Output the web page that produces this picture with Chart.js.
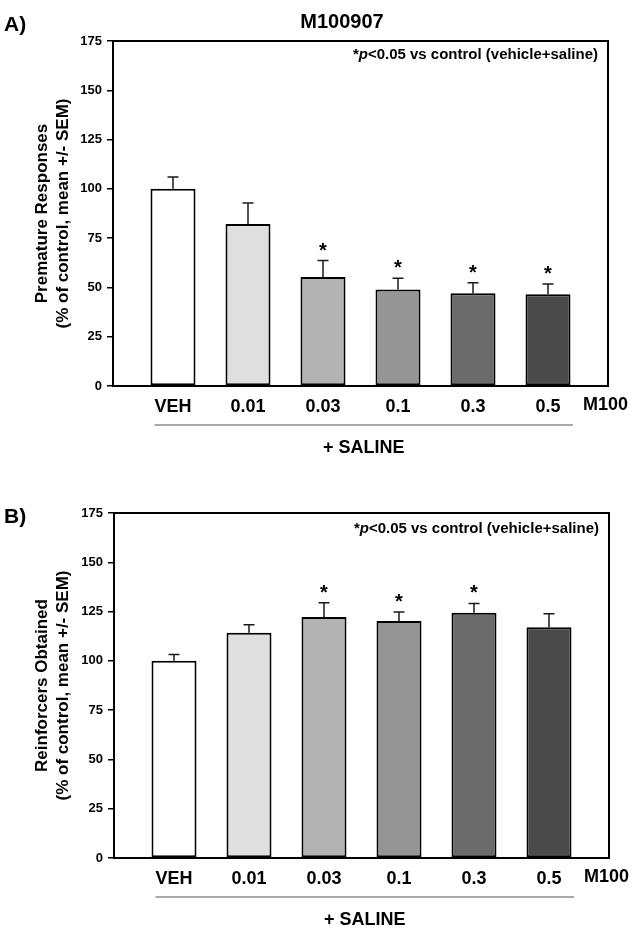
<!DOCTYPE html>
<html>
<head>
<meta charset="utf-8">
<title>M100907</title>
<script src="https://cdn.jsdelivr.net/npm/chart.js@4.4.1/dist/chart.umd.min.js"></script>
<style>
    html, body { margin: 0; padding: 0; background: #fff; }
    .panel { position: absolute; left: 0; width: 641px; height: 467px; }
    #panelA { top: 0; }
    #panelB { top: 467px; }
</style>
</head>
<body>
<div class="panel" id="panelA"><canvas id="chartA"></canvas></div>
<div class="panel" id="panelB"><canvas id="chartB"></canvas></div>

<script>
// Data
const doses = ['VEH', '0.01', '0.03', '0.1', '0.3', '0.5'];
const yTicks = [0, 25, 50, 75, 100, 125, 150, 175];

const prematureMeans = [100, 82.2, 55.3, 49.0, 47.0, 46.5];
const prematureSem = [6.0, 10.6, 8.3, 5.6, 5.4, 5.3];
const prematureSig = [false, false, true, true, true, true];

const reinforcerMeans = [100, 114.3, 122.2, 120.2, 124.4, 117.0];
const reinforcerSem = [3.2, 4.0, 7.3, 4.6, 4.7, 6.9];
const reinforcerSig = [false, false, true, true, true, false];

const barColors = ['#ffffff', '#dfdfdf', '#b3b3b3', '#959595', '#6b6b6b', '#4a4a4a'];
const FONT = "'Liberation Sans', Arial, sans-serif";

// error bars, asterisks, frame and extra labels
const extrasPlugin = {
    id: 'extras',
    afterDatasetsDraw(chart, args, opts) {
        const { ctx, chartArea } = chart;
        const xs = chart.scales.x;
        const ys = chart.scales.y;
        ctx.save();

        // top and right frame
        ctx.strokeStyle = '#000';
        ctx.lineWidth = 2;
        ctx.beginPath();
        ctx.moveTo(chartArea.left, chartArea.top);
        ctx.lineTo(chartArea.right, chartArea.top);
        ctx.lineTo(chartArea.right, chartArea.bottom);
        ctx.stroke();

        // upward error bars
        ctx.strokeStyle = '#1a1a1a';
        ctx.lineWidth = 1.5;
        opts.means.forEach((m, i) => {
            const x = xs.getPixelForValue(i);
            const y0 = ys.getPixelForValue(m);
            const y1 = ys.getPixelForValue(m + opts.sem[i]);
            ctx.beginPath();
            ctx.moveTo(x, y0);
            ctx.lineTo(x, y1);
            ctx.moveTo(x - 5.5, y1);
            ctx.lineTo(x + 5.5, y1);
            ctx.stroke();

            if (opts.sig[i]) {
                ctx.fillStyle = '#000';
                ctx.font = 'bold 20px ' + FONT;
                ctx.textAlign = 'center';
                ctx.textBaseline = 'alphabetic';
                ctx.fillText('*', x, y1 - 4);
            }
        });

        // significance note, right aligned inside the frame
        ctx.fillStyle = '#000';
        ctx.textBaseline = 'middle';
        ctx.textAlign = 'left';
        const parts = [
            ['bold 15px ' + FONT, '*'],
            ['italic bold 15px ' + FONT, 'p'],
            ['bold 15px ' + FONT, '<0.05 vs control (vehicle+saline)']
        ];
        let total = 0;
        parts.forEach(p => { ctx.font = p[0]; total += ctx.measureText(p[1]).width; });
        let tx = chartArea.right - 10 - total;
        const ty = chartArea.top + opts.noteOffset;
        parts.forEach(p => {
            ctx.font = p[0];
            ctx.fillText(p[1], tx, ty);
            tx += ctx.measureText(p[1]).width;
        });

        // drug name after the last dose label
        ctx.font = 'bold 18px ' + FONT;
        ctx.fillText('M100', xs.getPixelForValue(doses.length - 1) + 35, chartArea.bottom + 19);

        // "+ SALINE" bracket line
        const lx0 = xs.getPixelForValue(0) - 18.5;
        const lx1 = xs.getPixelForValue(doses.length - 1) + 25;
        const ly = chartArea.bottom + 39;
        ctx.strokeStyle = '#555';
        ctx.lineWidth = 1.2;
        ctx.beginPath();
        ctx.moveTo(lx0, ly);
        ctx.lineTo(lx1, ly);
        ctx.stroke();
        ctx.textAlign = 'center';
        ctx.fillText('+ SALINE', (lx0 + lx1) / 2, chartArea.bottom + 62);

        // panel letter and title
        ctx.textAlign = 'left';
        ctx.font = 'bold 21px ' + FONT;
        ctx.fillText(opts.letter, 4, opts.letterY);
        if (opts.title) {
            ctx.textAlign = 'center';
            ctx.font = 'bold 20px ' + FONT;
            ctx.fillText(opts.title, opts.titleX, opts.titleY);
        }
        ctx.restore();
    }
};

function makePanel(canvasId, cfg) {
    const ctx = document.getElementById(canvasId);
    return new Chart(ctx, {
        type: 'bar',
        data: {
            datasets: [{
                data: cfg.means.map((v, i) => ({ x: i, y: v })),
                backgroundColor: barColors,
                borderColor: '#000',
                borderWidth: 2,
                borderSkipped: false,
                categoryPercentage: 0.6,
                barPercentage: 1.0
            }]
        },
        options: {
            responsive: true,
            maintainAspectRatio: false,
            animation: false,
            events: [],
            layout: { padding: { left: 0, top: cfg.top, right: cfg.right, bottom: 0 } },
            plugins: {
                legend: { display: false },
                tooltip: { enabled: false },
                extras: cfg
            },
            scales: {
                x: {
                    type: 'linear',
                    min: -0.8,
                    max: 5.8,
                    offset: false,
                    grid: { display: false, drawTicks: false, offset: false },
                    border: { display: true, color: '#000', width: 2 },
                    afterBuildTicks: function(scale) {
                        scale.ticks = doses.map((d, i) => ({ value: i }));
                    },
                    ticks: {
                        autoSkip: false,
                        maxRotation: 0,
                        padding: 10,
                        color: '#000',
                        font: { family: FONT, size: 18, weight: 'bold' },
                        callback: function(value) {
                            return doses[value];
                        }
                    },
                    afterFit: function(scale) {
                        scale.height = cfg.xHeight;
                    }
                },
                y: {
                    min: 0,
                    max: 175,
                    afterBuildTicks: function(scale) {
                        scale.ticks = yTicks.map(v => ({ value: v }));
                    },
                    grid: {
                        display: true,
                        drawOnChartArea: false,
                        drawTicks: true,
                        tickLength: 6,
                        color: '#000',
                        lineWidth: 1.5
                    },
                    border: { display: true, color: '#000', width: 2 },
                    ticks: {
                        padding: 5,
                        color: '#000',
                        font: { family: FONT, size: 13, weight: 'bold' }
                    },
                    title: {
                        display: true,
                        text: cfg.yTitle,
                        color: '#000',
                        font: { family: FONT, size: 17, weight: 'bold', lineHeight: 1.235 },
                        padding: { top: 31.5, bottom: 0 }
                    },
                    afterFit: function(scale) {
                        scale.width = cfg.yWidth;
                    }
                }
            }
        },
        plugins: [extrasPlugin]
    });
}

makePanel('chartA', {
    means: prematureMeans,
    sem: prematureSem,
    sig: prematureSig,
    yTitle: ['Premature Responses', '(% of control, mean +/- SEM)'],
    letter: 'A)',
    letterY: 25,
    title: 'M100907',
    titleX: 342,
    titleY: 22,
    top: 41,
    right: 33,
    xHeight: 81,
    yWidth: 113,
    noteOffset: 14
});

makePanel('chartB', {
    means: reinforcerMeans,
    sem: reinforcerSem,
    sig: reinforcerSig,
    yTitle: ['Reinforcers Obtained', '(% of control, mean +/- SEM)'],
    letter: 'B)',
    letterY: 50,
    title: null,
    top: 46,
    right: 32,
    xHeight: 76,
    yWidth: 114,
    noteOffset: 16
});
</script>
</body>
</html>
